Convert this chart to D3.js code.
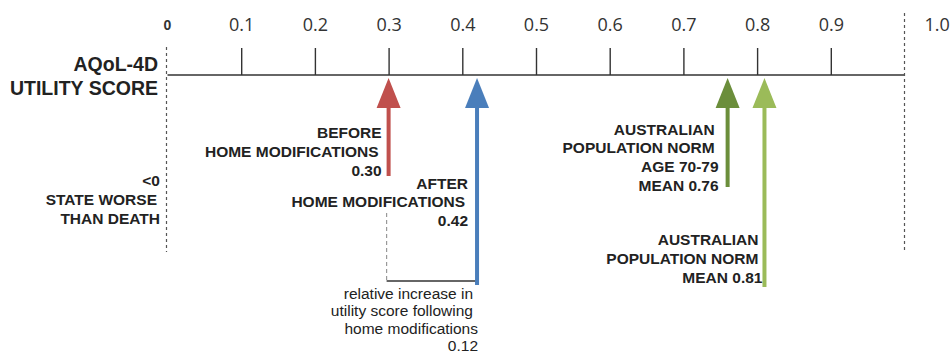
<!DOCTYPE html>
<html>
<head>
<meta charset="utf-8">
<script src="https://cdn.jsdelivr.net/npm/d3@7"></script>
<style>
html,body{margin:0;padding:0;background:#fff;}
svg{display:block;}
</style>
</head>
<body>
<svg id="chart" width="952" height="356"></svg>
<script>
// ---- data ----
const tickValues = [0.1, 0.2, 0.3, 0.4, 0.5, 0.6, 0.7, 0.8, 0.9];
const tickLabels = ["0.1", "0.2", "0.3", "0.4", "0.5", "0.6", "0.7", "0.8", "0.9"];
const axisTitle = ["AQoL-4D", "UTILITY SCORE"];
const worseLabel = ["<0", "STATE WORSE", "THAN DEATH"];
const markerNames = ["before", "after", "norm7079", "norm"];
const markerValues = [0.30, 0.42, 0.76, 0.81];
const markerLabels = [
  ["BEFORE", "HOME MODIFICATIONS", "0.30"],
  ["AFTER", "HOME MODIFICATIONS", "0.42"],
  ["AUSTRALIAN", "POPULATION NORM", "AGE 70-79", "MEAN 0.76"],
  ["AUSTRALIAN", "POPULATION NORM", "MEAN 0.81"]
];
const increaseLabel = ["relative increase in", "utility score following", "home modifications", "0.12"];

// ---- layout / style ----
const colors = ["#c0504d", "#4a7ebb", "#6b8e3b", "#9bbb59"];
const shaftBottom = [176, 285, 187, 287];
const labelLayout = [
  {lines: [{dx: -7, y: 138}, {dx: -10, y: 157}, {dx: -7, y: 176}]},
  {lines: [{dx: -9, y: 189}, {dx: -12, y: 207}, {dx: -9, y: 226}]},
  {lines: [{dx: -13, y: 135}, {dx: -13, y: 153}, {dx: -9, y: 172}, {dx: -9, y: 191}]},
  {lines: [{dx: -6, y: 245}, {dx: -6, y: 264}, {dx: -2, y: 283}]}
];

const svg = d3.select("#chart");
const x = d3.scaleLinear().domain([0, 1]).range([167.5, 904.5]);
const axisY = 75;

// axis line with ticks
const axisG = svg.append("g").attr("transform", `translate(0,${axisY})`);
const axis = d3.axisTop(x).tickValues(tickValues).tickSize(27).tickFormat((d, i) => tickLabels[i]);
axisG.call(axis);
axisG.select(".domain").attr("d", `M${x(0)},0H${x(1)}`).attr("stroke", "#333").attr("stroke-width", 1.4);
axisG.selectAll(".tick line").attr("stroke", "#333").attr("stroke-width", 1.4);
axisG.selectAll(".tick text")
  .attr("y", -44)
  .attr("dy", 0)
  .attr("fill", "#333")
  .style("font-family", "'Open Sans', sans-serif")
  .style("font-size", "18px");

// zero & one labels
svg.append("text").attr("x", x(0)).attr("y", 30).attr("text-anchor", "middle")
  .attr("fill", "#333").style("font-family", "'Liberation Sans', Arial, sans-serif")
  .style("font-weight", "bold").style("font-size", "14px").text("0");
svg.append("text").attr("x", x(1) + 20).attr("y", 31)
  .attr("fill", "#333").style("font-family", "'Open Sans', sans-serif")
  .style("font-size", "18px").text("1.0");

// dashed boundaries
svg.append("line").attr("x1", x(0) - 1).attr("x2", x(0) - 1).attr("y1", 47).attr("y2", 252)
  .attr("stroke", "#555").attr("stroke-width", 1.2).attr("stroke-dasharray", "3,3");
svg.append("line").attr("x1", x(1)).attr("x2", x(1)).attr("y1", 13).attr("y2", 253)
  .attr("stroke", "#555").attr("stroke-width", 1.2).attr("stroke-dasharray", "3,3");

const boldFont = "'Liberation Sans', Arial, Helvetica, sans-serif";

// axis title
svg.append("g").selectAll("text").data(axisTitle).join("text")
  .attr("x", 158).attr("y", (d, i) => 71 + i * 23.5)
  .attr("text-anchor", "end").attr("fill", "#222")
  .style("font-family", boldFont).style("font-weight", "bold").style("font-size", "19.5px")
  .text(d => d);

// worse than death
svg.append("g").selectAll("text").data(worseLabel).join("text")
  .attr("x", (d, i) => [160, 157, 160][i]).attr("y", (d, i) => 186 + i * 19)
  .attr("text-anchor", "end").attr("fill", "#222")
  .style("font-family", boldFont).style("font-weight", "bold").style("font-size", "15.5px")
  .text(d => d);

// bracket showing increase
svg.append("line").attr("x1", x(markerValues[0]) - 2).attr("x2", x(markerValues[0]) - 2)
  .attr("y1", 213).attr("y2", 281)
  .attr("stroke", "#999").attr("stroke-width", 1.2).attr("stroke-dasharray", "4,3");
svg.append("line").attr("x1", x(markerValues[0]) - 2).attr("x2", x(markerValues[1]))
  .attr("y1", 281).attr("y2", 281)
  .attr("stroke", "#333").attr("stroke-width", 1.4);

// arrows
const arrows = svg.append("g").selectAll("g").data(markerValues).join("g");
arrows.append("rect")
  .attr("x", d => x(d) - 2).attr("width", 4)
  .attr("y", 100).attr("height", (d, i) => shaftBottom[i] - 100)
  .attr("fill", (d, i) => colors[i]);
arrows.append("path")
  .attr("d", d => `M${x(d)},78L${x(d) + 12},108L${x(d) - 12},108Z`)
  .attr("fill", (d, i) => colors[i]);

// marker labels
markerLabels.forEach((lines, k) => {
  svg.append("g").selectAll("text").data(lines).join("text")
    .attr("x", (d, i) => x(markerValues[k]) + labelLayout[k].lines[i].dx)
    .attr("y", (d, i) => labelLayout[k].lines[i].y)
    .attr("text-anchor", "end").attr("fill", "#222")
    .style("font-family", boldFont).style("font-weight", "bold").style("font-size", "15.5px")
    .text(d => d);
});

// increase label
svg.append("g").selectAll("text").data(increaseLabel).join("text")
  .attr("x", (d, i) => [473, 473, 478, 478][i]).attr("y", (d, i) => 299 + i * 17.3)
  .attr("text-anchor", "end").attr("fill", "#222")
  .style("font-family", boldFont).style("font-size", "15.5px")
  .text(d => d);
</script>
</body>
</html>
